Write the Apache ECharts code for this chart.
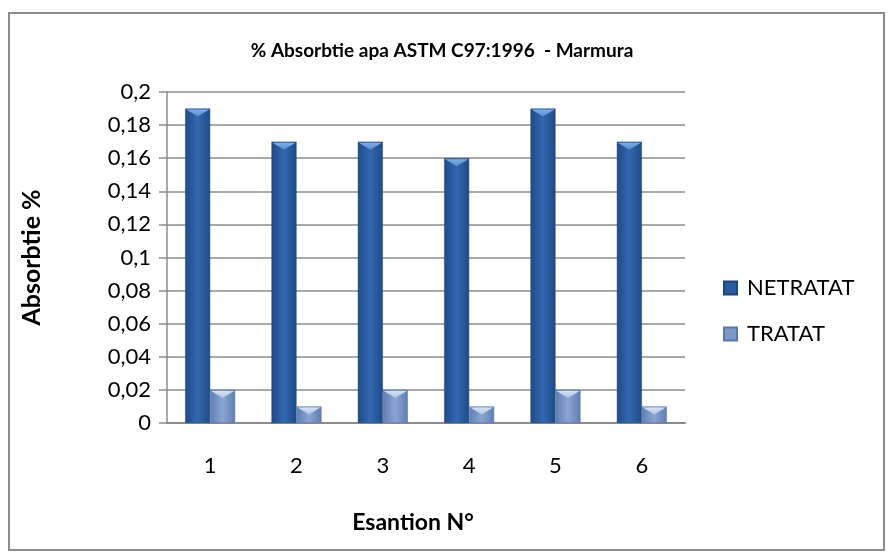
<!DOCTYPE html>
<html>
<head>
<meta charset="utf-8">
<script src="https://cdn.jsdelivr.net/npm/echarts@6/dist/echarts.min.js"></script>
<style>
  html, body { margin: 0; padding: 0; background: #fff; }
  #chart { width: 893px; height: 559px; }
</style>
</head>
<body>
<div id="chart"></div>
<script>
const categories = ['1', '2', '3', '4', '5', '6'];
const netratat = [0.19, 0.17, 0.17, 0.16, 0.19, 0.17];
const tratat = [0.02, 0.01, 0.02, 0.01, 0.02, 0.01];

const font = 'Lato, "Liberation Sans", sans-serif';
const BAR_W = 25;

const grad = (edge, mid) => new echarts.graphic.LinearGradient(0, 0, 1, 0, [
  { offset: 0, color: edge },
  { offset: 0.5, color: mid },
  { offset: 1, color: edge },
]);

// light bevel triangle on top of each bar, placed through the axis scales
const bevel = (values, side, light) => ({
  type: 'custom',
  silent: true,
  z: 3,
  data: values.map((v, i) => [i, v]),
  renderItem: (params, api) => {
    const top = api.coord([api.value(0), api.value(1)]);
    const x0 = side < 0 ? top[0] - BAR_W : top[0];
    const x1 = x0 + BAR_W;
    const y = top[1];
    return {
      type: 'polygon',
      shape: { points: [[x0 + 1, y + 1], [x1 - 1, y + 1], [(x0 + x1) / 2, y + 8]] },
      style: {
        fill: new echarts.graphic.LinearGradient(0, 0, 0, 1, [
          { offset: 0, color: light },
          { offset: 1, color: echarts.color.modifyAlpha(light, 0.5) },
        ]),
      },
    };
  },
});

const chart = echarts.init(document.getElementById('chart'));
chart.setOption({
  animation: false,
  graphic: [{
    type: 'rect',
    shape: { x: 9, y: 13, width: 875, height: 537 },
    style: { fill: 'none', stroke: '#8c8c8c', lineWidth: 2 },
  }],
  title: {
    text: '% Absorbtie apa ASTM C97:1996  - Marmura',
    left: 437,
    top: 36,
    textAlign: 'center',
    textStyle: { fontFamily: font, fontSize: 19, fontWeight: 'bold', color: '#000' },
  },
  legend: {
    data: [
      { name: 'NETRATAT', itemStyle: { color: '#2a5b9e' } },
      { name: 'TRATAT', itemStyle: { color: '#7d97c6' } },
    ],
    orient: 'vertical',
    left: 718,
    top: 272,
    itemGap: 24,
    itemWidth: 13,
    itemHeight: 13,
    icon: 'rect',
    textStyle: { fontFamily: font, fontSize: 22, color: '#000', padding: [0, 0, 0, 5] },
  },
  grid: { left: 167, right: 208, top: 92, bottom: 136 },
  xAxis: {
    type: 'category',
    data: categories,
    name: 'Esantion N°',
    nameLocation: 'middle',
    nameGap: 88,
    nameTextStyle: {
      fontFamily: font, fontSize: 23, fontWeight: 'bold', color: '#000',
      padding: [0, 26, 0, 0],
    },
    axisLine: { lineStyle: { color: '#8c8c8c', width: 2 } },
    axisTick: { show: false },
    axisLabel: { fontFamily: font, fontSize: 22, color: '#000', margin: 32 },
  },
  yAxis: {
    type: 'value',
    min: 0,
    max: 0.2,
    interval: 0.02,
    name: 'Absorbtie %',
    nameLocation: 'middle',
    nameGap: 123,
    nameTextStyle: { fontFamily: font, fontSize: 25, fontWeight: 'bold', color: '#000' },
    axisLine: { show: true, lineStyle: { color: '#8c8c8c', width: 1.5 } },
    axisTick: { show: true, length: 8, lineStyle: { color: '#8c8c8c', width: 1.5 } },
    splitLine: { lineStyle: { color: '#8c8c8c', width: 1.5 } },
    axisLabel: {
      fontFamily: font, fontSize: 22, color: '#000', margin: 16,
      formatter: v => String(+v.toFixed(2)).replace('.', ','),
    },
  },
  series: [
    {
      name: 'NETRATAT',
      type: 'bar',
      data: netratat,
      barWidth: BAR_W,
      barGap: '0%',
      itemStyle: { color: grad('#1f4b87', '#3367b0'), borderColor: '#1c457c', borderWidth: 0.5 },
    },
    {
      name: 'TRATAT',
      type: 'bar',
      data: tratat,
      barWidth: BAR_W,
      itemStyle: { color: grad('#5f7db0', '#8aa6d4'), borderColor: '#5a77a8', borderWidth: 0.5 },
    },
    bevel(netratat, -1, '#7fb0ec'),
    bevel(tratat, 1, '#d6e4f8'),
  ],
});
</script>
</body>
</html>
